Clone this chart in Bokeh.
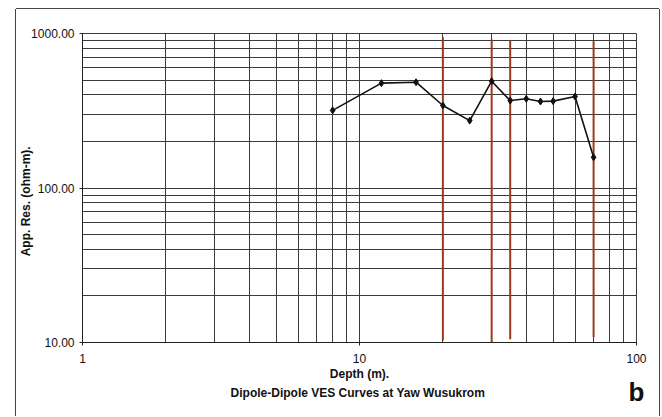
from bokeh.plotting import figure
from bokeh.models import FixedTicker, PrintfTickFormatter, LogAxis
from bokeh.embed import file_html
from bokeh.resources import INLINE

# ---- data ----
depth = [8, 12, 16, 20, 25, 30, 35, 40, 45, 50, 60, 70]
app_res = [318, 477, 484, 342, 273, 491, 368, 378, 363, 365, 391, 158]

marker_depths = [20, 30, 35, 70]
marker_tops = [946, 915, 901, 892]
marker_bottoms = [10.3, 10.0, 10.5, 10.8]

x_ticks = [1, 10, 100]
x_minor = [2, 3, 4, 5, 6, 7, 8, 9, 20, 30, 40, 50, 60, 70, 80, 90]
y_ticks = [10, 100, 1000]
y_minor = [20, 30, 40, 50, 60, 70, 80, 90, 200, 300, 400, 500, 600, 700, 800, 900]

x_title = "Depth (m)."
y_title = "App. Res. (ohm-m)."
chart_title = "Dipole-Dipole  VES Curves at Yaw Wusukrom"
panel_letter = "b"

FONT = "Liberation Sans"
GRID = "#3a3a3a"
TXT = "#111111"

p = figure(width=643, height=407, x_axis_type="log", y_axis_type="log",
           x_range=(1, 100), y_range=(10, 1000),
           output_backend="svg", toolbar_location=None,
           min_border_left=64, min_border_right=23,
           min_border_top=24, min_border_bottom=74,
           margin=(9, 0, 0, 16),
           styles={"box-shadow": "-1px 0 0 #444444, 1px 0 0 #444444, 0 -1px 0 #444444"})
p.background_fill_color = "white"
p.border_fill_color = "white"
p.outline_line_color = GRID
p.outline_line_width = 1

p.xaxis.ticker = FixedTicker(ticks=x_ticks, minor_ticks=x_minor)
p.yaxis.ticker = FixedTicker(ticks=y_ticks, minor_ticks=y_minor)
p.yaxis.formatter = PrintfTickFormatter(format="%.2f")
p.xaxis.formatter = PrintfTickFormatter(format="%d")

for ax in (p.xaxis, p.yaxis):
    ax.axis_line_color = "#222222"
    ax.axis_line_width = 1
    ax.major_tick_line_color = "#222222"
    ax.major_tick_out = 3
    ax.major_tick_in = 0
    ax.minor_tick_out = 0
    ax.minor_tick_in = 0
    ax.major_label_text_font = FONT
    ax.major_label_text_font_size = "12px"
    ax.major_label_text_color = TXT
    ax.axis_label_text_font = FONT
    ax.axis_label_text_font_size = "12px"
    ax.axis_label_text_font_style = "bold"
    ax.axis_label_text_color = TXT
p.xaxis.major_label_standoff = 8
p.yaxis.major_label_standoff = 5

# axis title plus chart title underneath it
p.xaxis.axis_label = x_title + "\n" + chart_title
p.xaxis.axis_label_standoff = 1
p.xaxis.axis_label_text_line_height = 1.4
# trailing no-break spaces shift the rotated label down a little, as in the original
p.yaxis.axis_label = y_title + "\u00a0" * 8
p.yaxis.axis_label_standoff = -5

# panel letter, drawn as the only label of an extra, invisible axis
letter_axis = LogAxis(ticker=FixedTicker(ticks=[100], minor_ticks=[]),
                      major_label_overrides={100: panel_letter})
letter_axis.axis_line_color = None
letter_axis.major_tick_line_color = None
letter_axis.minor_tick_line_color = None
letter_axis.major_label_text_font = FONT
letter_axis.major_label_text_font_size = "26px"
letter_axis.major_label_text_font_style = "bold"
letter_axis.major_label_text_color = TXT
letter_axis.major_label_standoff = -33
p.add_layout(letter_axis, "below")

for g in (p.xgrid, p.ygrid):
    g.grid_line_color = GRID
    g.grid_line_width = 1
    g.minor_grid_line_color = GRID
    g.minor_grid_line_width = 1

# red-brown marker lines
p.segment(x0=marker_depths, y0=marker_bottoms, x1=marker_depths, y1=marker_tops,
          line_color="#9c3a1e", line_width=2)

# data
p.line(depth, app_res, line_color=TXT, line_width=1.6)
p.scatter(depth, app_res, marker="diamond", size=7, color=TXT)

open("out.html", "w").write(file_html(p, INLINE))
